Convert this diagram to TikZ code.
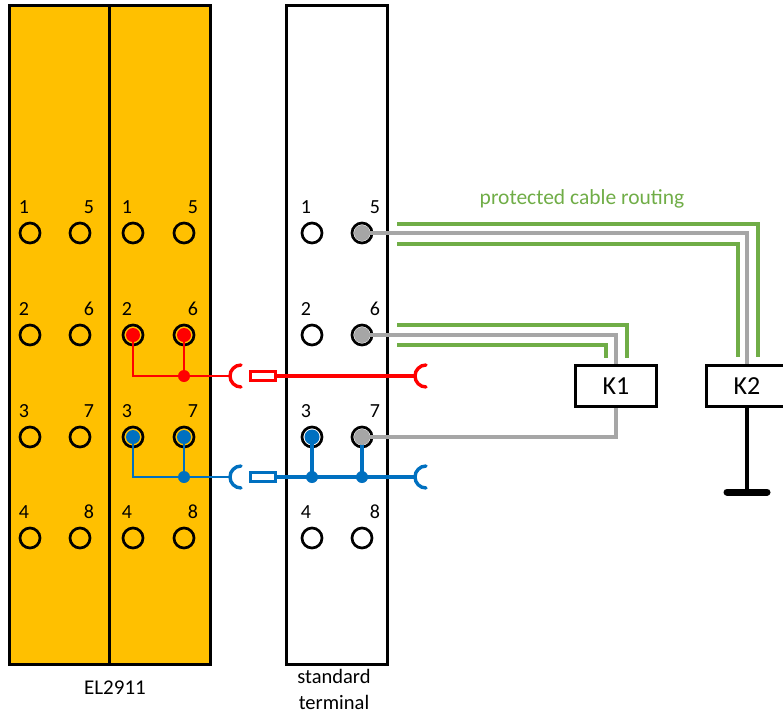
\documentclass[tikz,border=0pt]{standalone}
\usepackage{fontspec}
\setmainfont{Carlito}
\definecolor{modorange}{HTML}{FFC000}
\definecolor{wblue}{HTML}{0070C0}
\definecolor{wgray}{HTML}{A6A6A6}
\definecolor{wgreen}{HTML}{70AD47}
\tikzset{
  module/.style={draw=black,line width=3pt,inner sep=0pt,minimum height=659pt},
  pin/.style={circle,draw=black,line width=2.7pt,minimum size=20pt,inner sep=0pt},
  pinfill/.style={circle,fill=#1,minimum size=14pt,inner sep=0pt},
  num/.style={inner sep=0pt,font=\fontsize{20}{22}\selectfont},
  captext/.style={inner sep=0pt,font=\fontsize{21}{23}\selectfont},
  relay/.style={draw=black,line width=3.3pt,fill=white,minimum width=81pt,minimum height=41pt,inner sep=0pt,font=\fontsize{26}{28}\selectfont},
  fuse/.style={draw=#1,line width=2.6pt,fill=white,minimum width=25pt,minimum height=9pt,inner sep=0pt},
  junction/.style={circle,fill=#1,minimum size=12pt,inner sep=0pt},
  wirethin/.style={draw=#1,line width=2.5pt},
  wire/.style={draw=#1,line width=3.4pt},
  socket/.style={draw=#1,line width=3.4pt,line cap=round},
  shield/.style={draw=wgreen,line width=3.4pt},
  signal/.style={draw=wgray,line width=3.4pt}
}
\begin{document}
\begin{tikzpicture}[x=1pt,y=-1pt]
\useasboundingbox (0,0) rectangle (783,713);
% housings
\node[module,fill=modorange,minimum width=100pt] (m1) at (59,334.5) {};
\node[module,fill=modorange,minimum width=101pt] (m2) at (159.5,334.5) {};
\node[module,fill=white,minimum width=101pt] (m3) at (336.5,334.5) {};
% terminals
\foreach \n/\colx/\rowy in {1/0/233,2/0/335,3/0/437,4/0/538,5/1/233,6/1/335,7/1/437,8/1/538}{
  \pgfmathsetmacro{\ax}{30+50*\colx}
  \pgfmathsetmacro{\bx}{133+51*\colx}
  \pgfmathsetmacro{\cx}{312+50*\colx}
  \pgfmathsetmacro{\alx}{24+65*\colx}
  \pgfmathsetmacro{\blx}{127+66*\colx}
  \pgfmathsetmacro{\clx}{306+69*\colx}
  \pgfmathsetmacro{\ly}{\rowy-26}
  \node[pin] (a\n) at (\ax,\rowy) {};
  \node[pin] (b\n) at (\bx,\rowy) {};
  \node[pin,fill=white] (c\n) at (\cx,\rowy) {};
  \node[num] (la\n) at (\alx,\ly) {\n};
  \node[num] (lb\n) at (\blx,\ly) {\n};
  \node[num] (lc\n) at (\clx,\ly) {\n};
}
% filled terminals
\node[pinfill=red] (fb2) at (b2) {};
\node[pinfill=red] (fb6) at (b6) {};
\node[pinfill=wblue] (fb3) at (b3) {};
\node[pinfill=wblue] (fb7) at (b7) {};
\node[pinfill=wblue,minimum size=15pt] (fc3) at (c3) {};
\node[pinfill=wgray,minimum size=16pt] (fc5) at (c5) {};
\node[pinfill=wgray,minimum size=16pt] (fc6) at (c6) {};
% relays
\node[relay] (K1) at (616,386) {K1};
\node[relay] (K2) at (747,386) {K2};
% bus points
\coordinate (rs1) at (241,376);
\coordinate (rs2) at (426,376);
\coordinate (bs1) at (241,477);
\coordinate (bs2) at (426,477);
\node[fuse=red] (fr) at (263,376) {};
\node[fuse=wblue] (fbl) at (263,477) {};
\node[junction=red] (jr) at (184,376) {};
\node[junction=wblue] (jb) at (184,477) {};
\node[junction=wblue] (jc3) at (312,477) {};
\node[junction=wblue] (jc7) at (362,477) {};
% red wiring
\draw[wirethin=red] (fb2.center) |- (231,376);
\draw[wirethin=red] (fb6.center) -- (jr.center);
\draw[wire=red] (fr.east) -- (415,376);
\draw[socket=red] (rs1) ++(0,11) arc[start angle=90,end angle=270,radius=11];
\draw[socket=red] (rs2) ++(0,11) arc[start angle=90,end angle=270,radius=11];
% blue wiring
\draw[wirethin=wblue] (fb3.center) |- (231,477);
\draw[wirethin=wblue] (fb7.center) -- (jb.center);
\draw[wire=wblue] (fbl.east) -- (415,477);
\draw[wire=wblue] (fc3.center) -- (jc3.center);
\draw[wire=wblue] (c7.center) -- (jc7.center);
\node[pinfill=wgray,minimum size=16pt] (fc7) at (c7) {};
\draw[socket=wblue] (bs1) ++(0,11) arc[start angle=90,end angle=270,radius=11];
\draw[socket=wblue] (bs2) ++(0,11) arc[start angle=90,end angle=270,radius=11];
% signal wires
\draw[signal] (fc5.center) -| (K2.north);
\draw[signal] (fc6.center) -| (K1.north);
\draw[signal] (fc7.center) -| (K1.south);
% protection
\draw[shield] (397,224) -| (758,357);
\draw[shield] (397,244) -| (738,357);
\draw[shield] (397,325) -| (627,358);
\draw[shield] (397,345) -| (606,358);
% earth
\coordinate (gnd) at (747,492);
\draw[black,line width=3.2pt] (K2.south) -- (gnd);
\draw[black,line width=7pt,line cap=round] (727,492) -- (767,492);
% captions
\node[captext,text=wgreen,font=\fontsize{21.5}{23}\selectfont] (pcr) at (582,199) {protected cable routing};
\node[captext] (el) at (115,688) {EL2911};
\node[captext,align=center,font=\fontsize{20.5}{25.5}\selectfont] (std) at (334,689.5) {standard\\terminal};
\end{tikzpicture}
\end{document}
